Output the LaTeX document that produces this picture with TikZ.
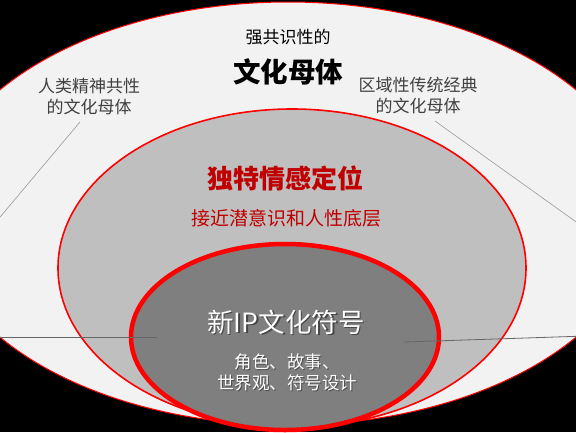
\documentclass[tikz,border=0pt]{standalone}
\usepackage{fontspec}
\newfontfamily\cjk{Noto Sans CJK SC}
\definecolor{outerfill}{HTML}{F2F2F2}
\definecolor{midfill}{HTML}{BFBFBF}
\definecolor{innerfill}{HTML}{7F7F7F}
\definecolor{ringred}{HTML}{FF0000}
\definecolor{textred}{HTML}{C00000}
\definecolor{sidegray}{HTML}{404040}
\tikzset{
  lbl/.style={font=\cjk, inner sep=0pt, align=center},
  guide/.style={draw=gray!80, line width=0.6pt},
  hguide/.style={draw=black!60, line width=0.8pt},
}
\begin{document}
\begin{tikzpicture}[x=1pt,y=-1pt]
\useasboundingbox (0,0) rectangle (576,432);
\fill[black] (0,0) rectangle (576,432);
\begin{scope}
\clip (0,0) rectangle (576,432);
\draw[fill=outerfill, draw=ringred, line width=1pt] (288,213.5) ellipse [x radius=355, y radius=211.5];
\draw[fill=midfill, draw=ringred, line width=1.6pt] (292,268) ellipse [x radius=234, y radius=159];
\draw[fill=innerfill, draw=ringred, line width=4.5pt] (285,337) ellipse [x radius=154, y radius=93];
% guide lines
\node[lbl, text=sidegray, font=\cjk\fontsize{17}{21}\selectfont] (lefttxt) at (89,97) {人类精神共性\\的文化母体};
\node[lbl, text=sidegray, font=\cjk\fontsize{17}{21}\selectfont] (righttxt) at (418,96) {区域性传统经典\\的文化母体};
\coordinate (la) at (80,122);
\coordinate (lb) at (-10,229);
\coordinate (ra) at (435,121);
\coordinate (rb) at (586,229);
\draw[guide] (la) -- (lb);
\draw[guide] (ra) -- (rb);
\coordinate (lh1) at (-5,337);
\coordinate (lh2) at (157,337);
\coordinate (rh1) at (404,342);
\coordinate (rh2) at (586,336);
\draw[hguide] (lh1) -- (lh2);
\draw[hguide] (rh1) -- (rh2);
\end{scope}
\node[lbl, font=\cjk\fontsize{17}{20}\selectfont] (t1) at (288,37) {强共识性的};
\node[lbl, font=\cjk\bfseries\fontsize{27.5}{30}\selectfont] (t2) at (288,72) {文化母体};
\node[lbl, text=textred, font=\cjk\bfseries\fontsize{26}{30}\selectfont] (m1) at (285,178) {独特情感定位};
\node[lbl, text=textred, font=\cjk\fontsize{19}{22}\selectfont] (m2) at (286,218) {接近潜意识和人性底层};
\node[lbl, text=black, opacity=0.45, font=\cjk\fontsize{26.5}{30}\selectfont] (c1s) at (287.5,323.5) {新IP文化符号};
\node[lbl, text=white, font=\cjk\fontsize{26.5}{30}\selectfont] (c1) at (286,322) {新IP文化符号};
\node[lbl, text=black, opacity=0.4, font=\cjk\fontsize{17.5}{21}\selectfont] (c2s) at (288,373.5) {角色、故事、\\世界观、符号设计};
\node[lbl, text=white, font=\cjk\fontsize{17.5}{21}\selectfont] (c2) at (287,372.5) {角色、故事、\\世界观、符号设计};
\end{tikzpicture}
\end{document}
